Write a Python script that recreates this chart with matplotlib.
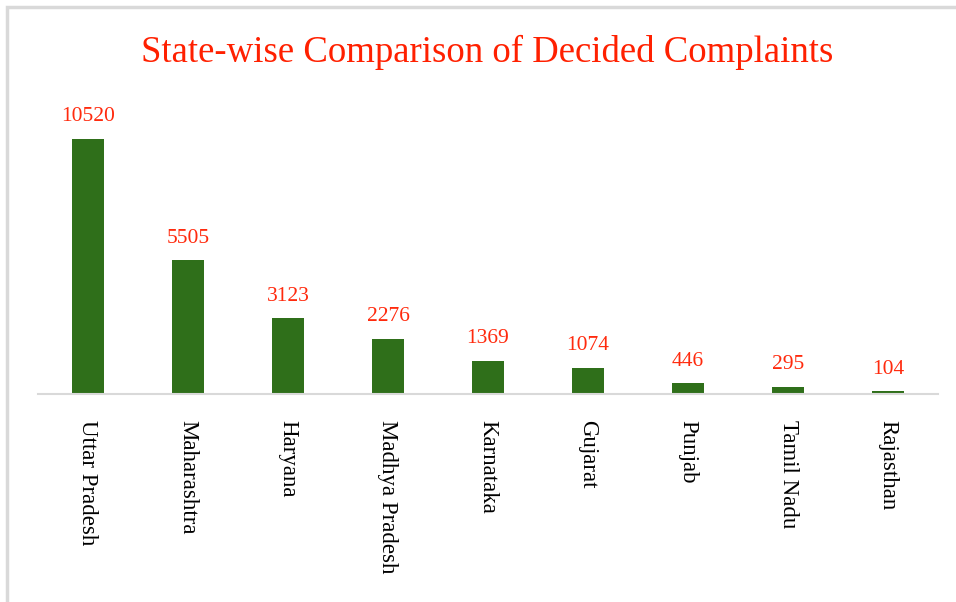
import matplotlib.pyplot as plt
from matplotlib.patches import Rectangle

# data
states = ["Uttar Pradesh", "Maharashtra", "Haryana", "Madhya Pradesh", "Karnataka",
          "Gujarat", "Punjab", "Tamil Nadu", "Rajasthan"]
decided = [10520, 5505, 3123, 2276, 1369, 1074, 446, 295, 104]

plt.rcParams['font.family'] = ['Liberation Serif', 'DejaVu Serif']

fig = plt.figure(figsize=(9.56, 6.02), dpi=100)
ax = fig.add_axes([0.0397, 0.3455, 0.9415, 0.484])

# grey frame (left and top edges visible)
fig.add_artist(Rectangle((7 / 956, -0.05), 1.1, (602 - 6.5) / 602 + 0.05,
                         transform=fig.transFigure, fill=False,
                         edgecolor='#D9D9D9', linewidth=2.5))

x = range(len(states))
bars = ax.bar(x, decided, width=0.32, color='#2F6F1A')

for b, v in zip(bars, decided):
    ax.annotate(str(v), (b.get_x() + b.get_width() / 2, v), xytext=(0, 9),
                textcoords='offset points', ha='center', va='bottom',
                color='#FF2A0D', fontsize=15.5)

ax.set_xlim(-0.5, len(states) - 0.5)
ax.set_ylim(0, 12000)
ax.set_yticks([])
ax.set_xticks(list(x))
ax.set_xticklabels(states, rotation=-90, fontsize=16.5, color='black',
                   ha='center', va='top')
ax.tick_params(axis='x', length=0, pad=19)
for s in ['top', 'right', 'left']:
    ax.spines[s].set_visible(False)
ax.spines['bottom'].set_color('#D9D9D9')
ax.spines['bottom'].set_linewidth(1.5)

fig.text(0.51, 0.913, "State-wise Comparison of Decided Complaints",
         ha='center', va='center', color='#FF2000', fontsize=26.5)

fig.savefig('out.png', dpi=100)
